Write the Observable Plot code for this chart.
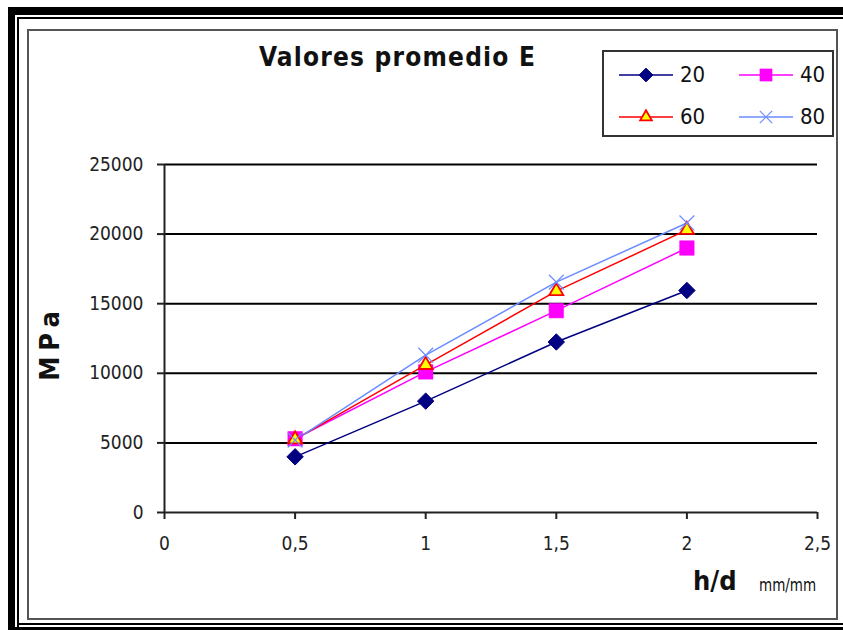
<!DOCTYPE html>
<html>
<head>
<meta charset="utf-8">
<script src="https://cdn.jsdelivr.net/npm/d3@7"></script>
<script src="https://cdn.jsdelivr.net/npm/@observablehq/plot@0.6"></script>
<style>
  html, body { margin: 0; padding: 0; background: #fff; }
  #page { position: relative; width: 843px; height: 630px; overflow: hidden; background: #fff;
          font-family: "DejaVu Sans Condensed", "DejaVu Sans", sans-serif; }
  .blk { position: absolute; background: #000; }
  #frame { position: absolute; left: 27px; top: 29px; width: 807px; height: 587px;
           border: 2px solid #555; box-sizing: content-box; }
  #chart { position: absolute; left: 0; top: 0; }
  #title { position: absolute; left: 0; width: 795px; top: 42px; text-align: center;
           font-weight: bold; font-size: 26px; letter-spacing: 1.2px; color: #111; }
  #ylabel { position: absolute; left: 49px; top: 343px; transform: translate(-50%, -50%) rotate(-90deg);
            font-weight: bold; font-size: 27px; letter-spacing: 6px; color: #111; white-space: nowrap; }
  #xlabel { position: absolute; left: 693px; top: 565px; font-weight: bold; font-size: 27px; color: #111; }
  #xunit { position: absolute; left: 759px; top: 576px; font-size: 15px; color: #111; transform: scaleY(1.15); }
  #legend { position: absolute; left: 602px; top: 50px; width: 232px; height: 87px;
            border: 2px solid #333; background: #fff; box-sizing: border-box; }
  .item { position: absolute; display: flex; align-items: center; font-size: 22px; color: #111; }
</style>
</head>
<body>
<div id="page">
  <div class="blk" style="left:8px;top:7px;width:835px;height:8px"></div>
  <div class="blk" style="left:8px;top:7px;width:7px;height:623px"></div>
  <div class="blk" style="left:17px;top:17px;width:826px;height:2px"></div>
  <div class="blk" style="left:17px;top:17px;width:2px;height:613px"></div>
  <div class="blk" style="left:17px;top:623px;width:826px;height:2px"></div>
  <div class="blk" style="left:8px;top:627px;width:835px;height:3px"></div>
  <div id="frame"></div>
  <div id="chart"></div>
  <div id="title">Valores promedio E</div>
  <div id="ylabel">MPa</div>
  <div id="xlabel">h/d</div>
  <div id="xunit">mm/mm</div>
  <div id="legend"></div>
</div>
<script>
// h/d ratios (mm/mm)
const hd = [0.5, 1, 1.5, 2];
// mean E values (MPa) per series
const e20 = [4000, 8000, 12250, 15950];
const e40 = [5300, 10100, 14500, 19000];
const e60 = [5250, 10600, 15900, 20300];
const e80 = [5200, 11300, 16550, 20800];
const seriesNames = ["20", "40", "60", "80"];
const xTicks = [0, 0.5, 1, 1.5, 2, 2.5];
const yTicks = [0, 5000, 10000, 15000, 20000, 25000];

const styles = {
  "20": {stroke: "#000080", symbol: "diamond2", fill: "#000080", dotStroke: "#000080", r: 7.4, sw: 1},
  "40": {stroke: "#ff00ff", symbol: "square", fill: "#ff00ff", dotStroke: "#ff00ff", r: 8.2, sw: 0.5},
  "60": {stroke: "#ff0000", symbol: "triangle", fill: "#ffff00", dotStroke: "#ff0000", r: 5.2, sw: 1.8},
  "80": {stroke: "#6b8cff", symbol: "times", fill: "none", dotStroke: "#6b8cff", r: 6.8, sw: 1.2}
};

const allSeries = [e20, e40, e60, e80];
const rows = [];
seriesNames.forEach((s, i) => hd.forEach((x, j) => rows.push({series: s, hd: x, E: allSeries[i][j]})));

const comma = d => String(d).replace(".", ",");

const lineMarks = seriesNames.map(s => Plot.line(rows.filter(r => r.series === s), {
  x: "hd", y: "E", stroke: styles[s].stroke, strokeWidth: 1.5
}));
const dotMarks = seriesNames.map(s => Plot.dot(rows.filter(r => r.series === s), {
  x: "hd", y: "E", symbol: () => styles[s].symbol, r: styles[s].r,
  fill: styles[s].fill, stroke: styles[s].dotStroke, strokeWidth: styles[s].sw
}));

const chart = Plot.plot({
  width: 843, height: 630,
  marginLeft: 164, marginRight: 26, marginTop: 164, marginBottom: 118,
  style: {background: "transparent", fontFamily: "'DejaVu Sans Condensed', 'DejaVu Sans', sans-serif", fontSize: "19px", color: "#222"},
  x: {domain: [0, 2.5]},
  y: {domain: [0, 25000]},
  symbol: {type: "identity"},
  marks: [
    Plot.ruleY(yTicks.slice(1), {stroke: "#000", strokeWidth: 2}),
    Plot.ruleX([0], {stroke: "#222", strokeWidth: 2}),
    Plot.ruleY([0], {stroke: "#222", strokeWidth: 2}),
    Plot.axisY({ticks: yTicks, tickSize: 7, tickPadding: 14, tickFormat: d => String(d), stroke: "#222", strokeWidth: 2, label: null, fill: "#222"}),
    Plot.axisX({ticks: xTicks, tickSize: 7, tickPadding: 17, tickFormat: comma, stroke: "#222", strokeWidth: 2, label: null, fill: "#222"}),
    ...lineMarks,
    ...dotMarks
  ]
});
document.getElementById("chart").appendChild(chart);

// legend
const legend = d3.select("#legend");
const pos = [[14, 10], [134, 10], [14, 52], [134, 52]];
const symMap = {diamond2: d3.symbolDiamond2, square: d3.symbolSquare, triangle: d3.symbolTriangle, times: d3.symbolTimes};
seriesNames.forEach((s, i) => {
  const st = styles[s];
  const item = legend.append("div").attr("class", "item")
    .style("left", pos[i][0] + "px").style("top", pos[i][1] + "px");
  const svg = item.append("svg").attr("width", 56).attr("height", 20);
  svg.append("line").attr("x1", 1).attr("x2", 55).attr("y1", 10).attr("y2", 10)
    .attr("stroke", st.stroke).attr("stroke-width", 1.5);
  svg.append("path").attr("transform", "translate(28,10)")
    .attr("d", d3.symbol(symMap[st.symbol], Math.PI * st.r * st.r * 0.7)())
    .attr("fill", st.fill).attr("stroke", st.dotStroke).attr("stroke-width", st.sw);
  item.append("span").text(s).style("margin-left", "6px");
});
</script>
</body>
</html>
